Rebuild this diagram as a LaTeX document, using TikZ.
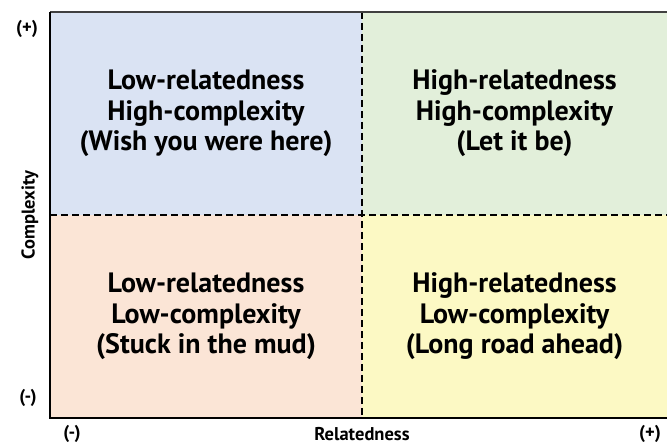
\documentclass[tikz,border=0pt]{standalone}
\usepackage{fontspec}
\setmainfont{PT Sans}
\usetikzlibrary{positioning}

\definecolor{qblue}{HTML}{DAE3F3}
\definecolor{qgreen}{HTML}{E2EFDA}
\definecolor{qpeach}{HTML}{FBE5D6}
\definecolor{qyellow}{HTML}{FCF9C4}

\begin{document}
\begin{tikzpicture}[
    x=1pt, y=1pt,
    font=\bfseries,
    % Define styles for the quadrants and axis labels
    quadbox/.style={rectangle, inner sep=0pt, outer sep=0pt, text centered, align=center, font=\bfseries\fontsize{28}{30.5}\selectfont},
    leftquad/.style={quadbox, minimum width=312pt, minimum height=203pt},
    rightquad/.style={quadbox, minimum width=305pt, minimum height=203pt},
    axislabel/.style={font=\bfseries\fontsize{18.5}{20}\selectfont, inner sep=0pt},
    divider/.style={line width=1.4pt, dash pattern=on 7pt off 4pt},
]
\useasboundingbox (0,0) rectangle (667,446);

% -------------------------
% Quadrants
% -------------------------
\node (lowhigh) [leftquad, fill=qblue, anchor=north west] at (50,434) {Low-relatedness\\High-complexity\\(Wish you were here)};
\node (highhigh) [rightquad, fill=qgreen, anchor=north west] at (lowhigh.north east) {High-relatedness\\High-complexity\\(Let it be)};
\node (lowlow) [leftquad, fill=qpeach, anchor=north west] at (lowhigh.south west) {Low-relatedness\\Low-complexity\\(Stuck in the mud)};
\node (highlow) [rightquad, fill=qyellow, anchor=north west] at (lowlow.north east) {High-relatedness\\Low-complexity\\(Long road ahead)};

% -------------------------
% Dividers and axes
% -------------------------
\draw[divider] (lowhigh.north east) -- (lowlow.south east);
\draw[divider] (lowhigh.south west) -- (highhigh.south east);

\draw[line width=1.8pt, black!75] (lowhigh.north west) -- (highhigh.north east);
\draw[line width=1.3pt] (lowhigh.north west) -- (lowlow.south west) -- (highlow.south east);

% -------------------------
% Axis labels
% -------------------------
\node (cplus) [axislabel] at (27,417) {(+)};
\node (cminus) [axislabel] at (28,48) {(-)};
\node (complexity) [axislabel, rotate=90] at (30,231) {Complexity};
\node (rminus) [axislabel] at (72,12) {(-)};
\node (relatedness) [axislabel, below=9pt of lowlow.south east] {Relatedness};
\node (rplus) [axislabel] at (650,12) {(+)};

\end{tikzpicture}
\end{document}
